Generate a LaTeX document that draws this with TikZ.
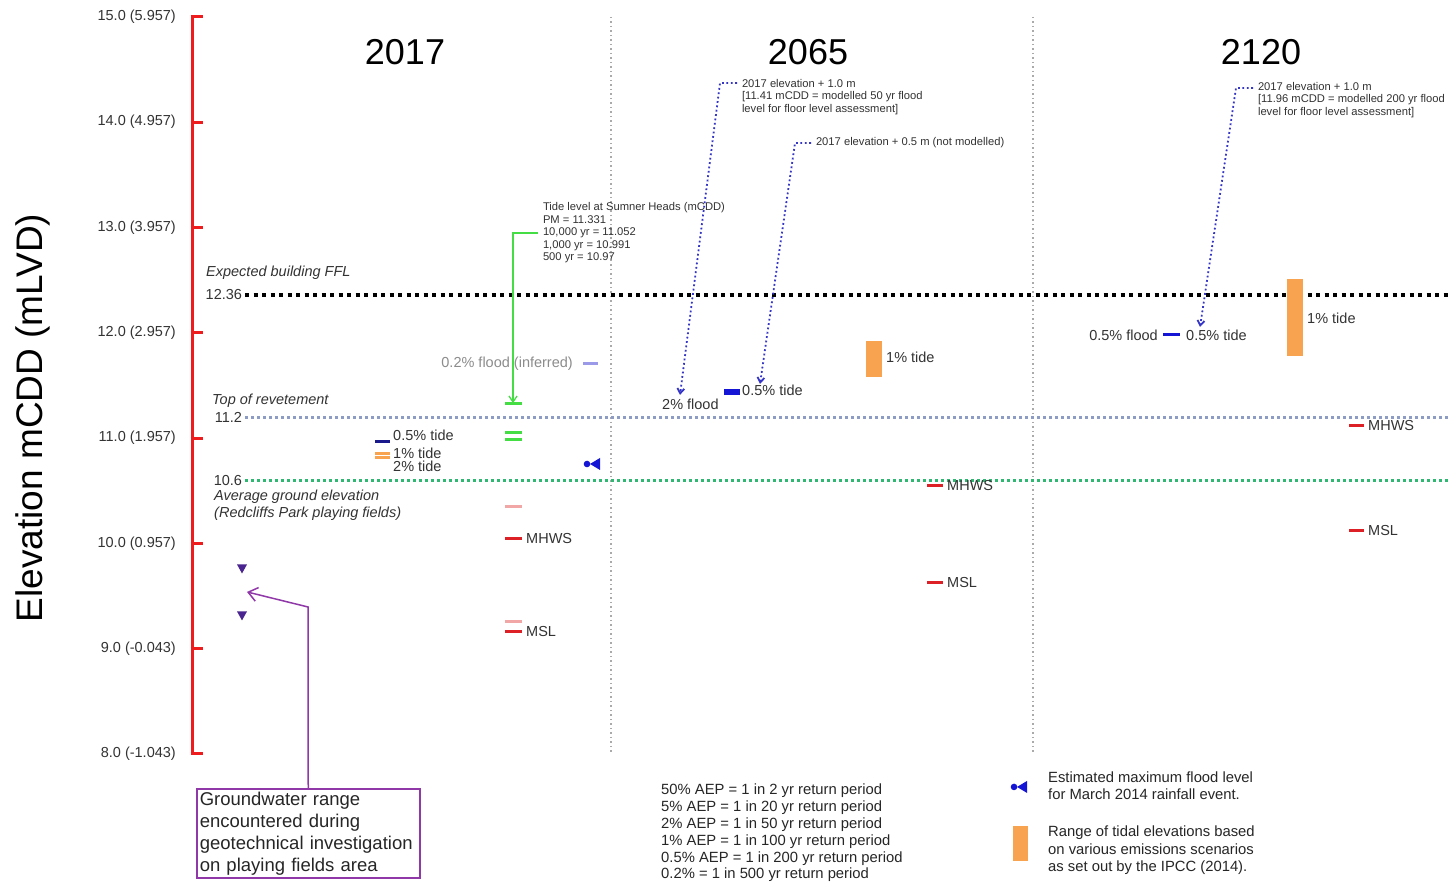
\documentclass[tikz,border=0pt]{standalone}
\usepackage{fontspec}
\setmainfont{Liberation Sans}
\usepackage{tikz}
\usetikzlibrary{arrows.meta, positioning, calc}
\definecolor{axisred}{HTML}{EE1C1C}
\definecolor{txtgray}{HTML}{333333}
\definecolor{revblue}{HTML}{8C9CC4}
\definecolor{groundgreen}{HTML}{2EB872}
\definecolor{sepgray}{HTML}{AAAAAA}
\definecolor{navy}{HTML}{1A1A8C}
\definecolor{tideblue}{HTML}{1515D6}
\definecolor{tideorange}{HTML}{F7A350}
\definecolor{pmgreen}{HTML}{44DD44}
\definecolor{pinkmark}{HTML}{F2A7A7}
\definecolor{mhwsred}{HTML}{DD1F26}
\definecolor{lavender}{HTML}{9A9AE8}
\definecolor{linkblue}{HTML}{3535C8}
\definecolor{gwpurple}{HTML}{9038A8}
\definecolor{gwtri}{HTML}{4A2590}
\tikzset{
	axisline/.style={draw=axisred, line width=3pt},
	ticklbl/.style={font=\fontsize{14.5}{16}\selectfont, text=txtgray, anchor=east, inner sep=0pt},
	yearlbl/.style={font=\fontsize{36}{40}\selectfont, inner sep=0pt},
	reflbl/.style={font=\fontsize{14.5}{17}\selectfont\itshape, text=txtgray, align=left, anchor=west, inner sep=0pt},
	refval/.style={font=\fontsize{14.5}{17}\selectfont, text=txtgray, anchor=east, inner sep=0pt, outer xsep=3pt},
	dotline/.style={line width=3pt, dash pattern=on 2.5pt off 3.5pt},
	lvl/.style={line width=3pt},
	lbl/.style={font=\fontsize{14.5}{16}\selectfont, text=txtgray, anchor=west, inner sep=0pt},
	notetxt/.style={font=\fontsize{11.2}{12.5}\selectfont, text=txtgray, align=left, inner sep=0pt, outer xsep=5pt},
	notelink/.style={draw=linkblue, line width=1.8pt, dash pattern=on 1.8pt off 2.6pt, -{Straight Barb[length=5pt, width=7pt]}},
	legendtxt/.style={font=\fontsize{14.8}{16.8}\selectfont, text=black!85, align=left, inner sep=0pt, anchor=north west},
	floodmark/.pic={
		\fill[tideblue] (-6pt,0pt) circle (3.3pt);
		\fill[tideblue] (-3pt,0pt) -- (7pt,6pt) -- (7pt,-6pt) -- cycle;
	},
	gwmark/.pic={
		\fill[gwtri] (-5pt,4.5pt) -- (5pt,4.5pt) -- (0pt,-4.5pt) -- cycle;
	}
}

\begin{document}
\begin{tikzpicture}[x=1pt, y=105.3pt]
	% Frame (y is in metres of elevation)
	\useasboundingbox (0,6.7654) rectangle (1450,15.1605);
	\fill[white] (0,6.7654) rectangle (1450,15.1605);
	
	% Elevation axis
	\draw[axisline] (192,8) -- (192,15);
	\foreach \e/\txt in {15/15.0 (5.957), 14/14.0 (4.957), 13/13.0 (3.957), 12/12.0 (2.957), 11/11.0 (1.957), 10/10.0 (0.957), 9/9.0 (-0.043), 8/8.0 (-1.043)} {
		\draw[axisline] (190.5,\e) -- (203,\e);
		\node[ticklbl] (yt\e) at (176,\e) {\txt};
	}
	\node[rotate=90, font=\fontsize{37}{40}\selectfont, inner sep=0pt] (ylab) at (33,11.191) {Elevation mCDD (mLVD)};
	
	% Years and separators
	\node[yearlbl] (y2017) at (405,14.667) {2017};
	\node[yearlbl] (y2065) at (808,14.667) {2065};
	\node[yearlbl] (y2120) at (1261,14.667) {2120};
	\draw[sepgray, line width=1.5pt, dash pattern=on 1.5pt off 3pt] (611,15) -- (611,8);
	\draw[sepgray, line width=1.5pt, dash pattern=on 1.5pt off 3pt] (1033,15) -- (1033,8);
	
	% Reference levels
	\node[reflbl] (fflname) at (206,12.568) {Expected building FFL};
	\node[refval] (fflval) at (245,12.36) {12.36};
	\coordinate (fflend) at (1450,12.36);
	\draw[black, line width=3.5pt, dash pattern=on 4pt off 4.5pt] (fflval.east) -- (fflend);
	
	\node[reflbl] (revname) at (212,11.352) {Top of revetement};
	\node[refval] (revval) at (245,11.2) {11.2};
	\coordinate (revend) at (1450,11.2);
	\draw[dotline, revblue] (revval.east) -- (revend);
	
	\node[refval] (gndval) at (245,10.6) {10.6};
	\node[reflbl] (gndname) at (214,10.36) {Average ground elevation\\(Redcliffs Park playing fields)};
	\coordinate (gndend) at (1450,10.6);
	\draw[dotline, groundgreen] (gndval.east) -- (gndend);
	
	% 2017 levels
	\draw[lvl, navy] (375,10.972) -- (390,10.972);
	\node[lbl] (t17a) at (393,11.03) {0.5\% tide};
	\draw[lvl, tideorange] (375,10.858) -- (390,10.858);
	\draw[lvl, tideorange] (375,10.811) -- (390,10.811);
	\node[lbl] (t17b) at (393,10.858) {1\% tide};
	\node[lbl] (t17c) at (393,10.735) {2\% tide};
	
	\draw[lvl, lavender] (583,11.704) -- (598,11.704);
	\node[lbl, anchor=east, text=black!45] (f17) at (573,11.704) {0.2\% flood (inferred)};
	
	\draw[lvl, pmgreen] (505,11.331) -- (522,11.331);
	\draw[lvl, pmgreen] (505,11.052) -- (522,11.052);
	\draw[lvl, pmgreen] (505,10.991) -- (522,10.991);
	\node[notetxt, anchor=west] (tide17) at (538,12.948) {Tide level at Sumner Heads (mCDD)\\PM = 11.331\\10,000 yr = 11.052\\1,000 yr = 10.991\\500 yr = 10.97};
	\coordinate (pm17) at (513,11.331);
	\draw[pmgreen, line width=1.3pt, -{Straight Barb[length=6pt, width=8pt]}] (tide17.west) -| (pm17);
	
	\draw[lvl, pinkmark] (505,10.346) -- (522,10.346);
	\draw[lvl, mhwsred] (505,10.051) -- (522,10.051);
	\node[lbl] (mhws17) at (526,10.051) {MHWS};
	\draw[lvl, pinkmark] (505,9.254) -- (522,9.254);
	\draw[lvl, mhwsred] (505,9.159) -- (522,9.159);
	\node[lbl] (msl17) at (526,9.159) {MSL};
	
	\pic at (593,10.754) {floodmark};
	
	% Groundwater
	\pic at (242,9.757) {gwmark};
	\pic at (242,9.311) {gwmark};
	\node[draw=gwpurple, line width=1.5pt, anchor=north west, align=left, text width=217pt, inner sep=3pt, font=\fontsize{18.5}{22}\selectfont, text=black!85] (gwbox) at (196,7.677) {Groundwater range\\encountered during\\geotechnical investigation\\on playing fields area};
	\coordinate (gwknee) at (308,9.396);
	\coordinate (gwtip) at (247,9.539);
	\draw[gwpurple, line width=1.5pt, -{Straight Barb[length=9pt, width=14pt]}] (gwbox.north) -- (gwknee) -- (gwtip);
	
	% 2065 levels
	\node[lbl] (f65) at (662,11.324) {2\% flood};
	\draw[tideblue, line width=6pt] (724,11.438) -- (740,11.438);
	\node[lbl] (t65) at (742,11.457) {0.5\% tide};
	\fill[tideorange] (866,11.922) rectangle (882,11.580);
	\node[lbl] (o65) at (886,11.770) {1\% tide};
	\draw[lvl, mhwsred] (927,10.545) -- (943,10.545);
	\node[lbl] (mhws65) at (947,10.545) {MHWS};
	\draw[lvl, mhwsred] (927,9.633) -- (943,9.633);
	\node[lbl] (msl65) at (947,9.633) {MSL};
	
	\node[notetxt, anchor=north west] (note65a) at (737,14.410) {2017 elevation + 1.0 m\\{[}11.41 mCDD = modelled 50 yr flood\\level for floor level assessment]};
	\coordinate (knee65a) at (720,14.372);
	\coordinate (fl65) at (680,11.41);
	\draw[notelink] (note65a.west |- knee65a) -- (knee65a) -- (fl65);
	
	\node[notetxt, anchor=west] (note65b) at (811,13.802) {2017 elevation + 0.5 m (not modelled)};
	\coordinate (knee65b) at (795,13.802);
	\coordinate (tl65) at (760,11.514);
	\draw[notelink] (note65b.west) -- (knee65b) -- (tl65);
	
	% 2120 levels
	\node[lbl, anchor=east] (f120) at (1158,11.979) {0.5\% flood};
	\draw[lvl, tideblue] (1163,11.979) -- (1180,11.979);
	\node[lbl] (t120) at (1186,11.979) {0.5\% tide};
	\fill[tideorange] (1287,12.511) rectangle (1303,11.780);
	\node[lbl] (o120) at (1307,12.141) {1\% tide};
	\draw[lvl, mhwsred] (1349,11.124) -- (1364,11.124);
	\node[lbl] (mhws120) at (1368,11.124) {MHWS};
	\draw[lvl, mhwsred] (1349,10.127) -- (1364,10.127);
	\node[lbl] (msl120) at (1368,10.127) {MSL};
	
	\node[notetxt, anchor=north west] (note120) at (1253,14.382) {2017 elevation + 1.0 m\\{[}11.96 mCDD = modelled 200 yr flood\\level for floor level assessment]};
	\coordinate (knee120) at (1236,14.325);
	\coordinate (fl120) at (1200,12.055);
	\draw[notelink] (note120.west |- knee120) -- (knee120) -- (fl120);
	
	% Legend
	\node[legendtxt] (aep) at (661,7.715) {50\% AEP = 1 in 2 yr return period\\5\% AEP = 1 in 20 yr return period\\2\% AEP = 1 in 50 yr return period\\1\% AEP = 1 in 100 yr return period\\0.5\% AEP = 1 in 200 yr return period\\0.2\% = 1 in 500 yr return period};
	\pic at (1020,7.687) {floodmark};
	\node[legendtxt] (legflood) at (1048,7.829) {Estimated maximum flood level\\for March 2014 rainfall event.};
	\fill[tideorange] (1013,7.316) rectangle (1028,6.984);
	\node[legendtxt, font=\fontsize{14.8}{17.5}\selectfont] (legtide) at (1048,7.316) {Range of tidal elevations based\\on various emissions scenarios\\as set out by the IPCC (2014).};
\end{tikzpicture}
\end{document}
